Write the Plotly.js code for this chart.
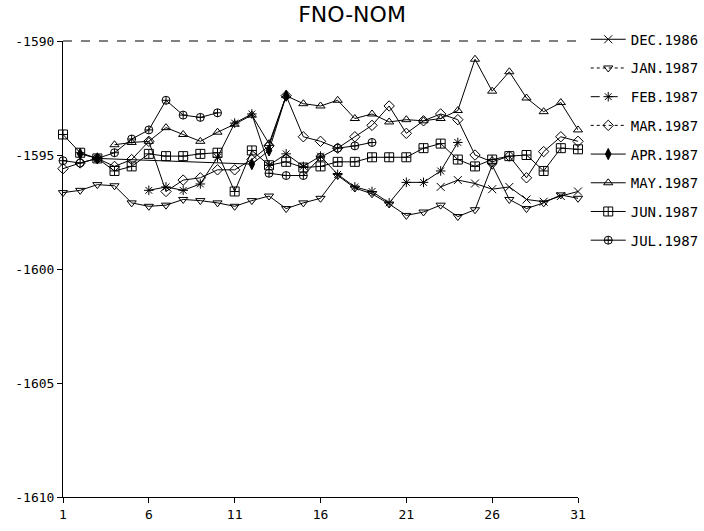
<!DOCTYPE html>
<html>
<head>
<meta charset="utf-8">
<script src="https://cdn.plot.ly/plotly-3.0.1.min.js"></script>
<style>html,body{margin:0;padding:0;background:#fff;}#chart{width:704px;height:531px;}</style>
</head>
<body>
<div id="chart"></div>
<script>
const days = [1,2,3,4,5,6,7,8,9,10,11,12,13,14,15,16,17,18,19,20,21,22,23,24,25,26,27,28,29,30,31];
const N = null;
const dec1986 = [N,N,N,N,N,N,N,N,N,N,N,N,N,N,N,N,N,N,N,N,N,N,-1596.4,-1596.1,-1596.25,-1596.5,-1596.4,-1596.95,-1597.05,-1596.8,-1596.6];
const jan1987 = [-1596.65,-1596.55,-1596.3,-1596.35,-1597.1,-1597.25,-1597.2,-1596.95,-1597.0,-1597.1,-1597.25,-1597.0,-1596.8,-1597.35,-1597.1,-1596.9,-1595.9,-1596.45,-1596.7,-1597.15,-1597.65,-1597.5,-1597.2,-1597.7,-1597.4,-1595.45,-1596.95,-1597.35,-1597.1,-1596.75,-1596.9];
const feb1987 = [N,N,N,N,N,-1596.55,-1596.4,-1596.55,-1596.27,-1595.1,-1593.6,-1593.2,-1595.45,-1594.95,-1595.5,-1595.05,-1595.85,-1596.4,-1596.6,-1597.1,-1596.2,-1596.2,-1595.7,-1594.45,N,N,N,N,N,N,N];
const mar1987 = [-1595.6,-1595.35,-1595.15,-1595.5,-1595.2,-1594.4,-1596.6,-1596.1,-1596.0,-1595.65,-1595.65,-1595.2,-1594.6,-1592.4,-1594.2,-1594.4,-1594.7,-1594.2,-1593.7,-1592.85,-1594.05,-1593.5,-1593.2,-1593.45,-1595.0,-1595.3,-1595.05,-1596.0,-1594.85,-1594.2,-1594.4];
const apr1987 = [N,-1594.95,-1595.15,N,N,N,N,N,N,N,N,-1595.4,-1594.8,-1592.4,N,N,N,N,N,N,N,N,N,N,N,N,N,N,N,N,N];
const may1987 = [N,N,N,-1594.55,-1594.45,-1594.4,-1593.8,-1594.1,-1594.4,-1594.0,-1593.65,-1593.25,-1594.5,-1592.4,-1592.75,-1592.85,-1592.6,-1593.4,-1593.2,-1593.55,-1593.45,-1593.5,-1593.4,-1593.05,-1590.8,-1592.2,-1591.35,-1592.5,-1593.1,-1592.7,-1593.9];
const jun1987 = [-1594.1,-1594.9,-1595.15,-1595.7,-1595.5,-1594.95,-1595.05,-1595.05,-1594.95,-1594.9,-1596.6,-1594.8,-1595.45,-1595.3,-1595.55,-1595.5,-1595.3,-1595.3,-1595.1,-1595.1,-1595.1,-1594.7,-1594.5,-1595.2,-1595.5,-1595.2,-1595.05,-1595.0,-1595.7,-1594.7,-1594.75];
const jul1987 = [-1595.25,-1595.35,-1595.15,-1594.9,-1594.3,-1593.9,-1592.6,-1593.25,-1593.35,-1593.15,N,N,-1595.8,-1595.9,-1595.9,-1595.1,-1594.7,-1594.6,-1594.45,N,N,N,N,N,N,N,N,N,N,N,N];
const seriesNames = ['DEC.1986','JAN.1987','FEB.1987','MAR.1987','APR.1987','MAY.1987','JUN.1987','JUL.1987'];
const seriesValues = [dec1986,jan1987,feb1987,mar1987,apr1987,may1987,jun1987,jul1987];
const xTicks = [1,6,11,16,21,26,31];
const yTicks = [-1610,-1605,-1600,-1595,-1590];

const symbols = ['x-thin-open','triangle-down-open','asterisk-open','diamond-open','diamond-tall','triangle-up-open','square-cross-open','circle-cross-open'];
const sizes = [8,8,8,8,8,8,9,8];
const legendDash = ['solid','dot','dash','dot','solid','solid','solid','solid'];
const connect = [false,false,false,false,true,false,false,false];

const traces = [];
seriesValues.forEach((vals,i)=>{
  traces.push({
    x: days, y: vals, type:'scatter', mode:'lines+markers', showlegend:false,
    connectgaps: connect[i],
    line:{color:'#000',width:1},
    marker:{symbol:symbols[i],size:sizes[i],color:'#000',line:{color:'#000',width:1}},
    cliponaxis:false
  });
});
seriesNames.forEach((nm,i)=>{
  traces.push({
    x:[null], y:[null], type:'scatter', mode:'lines+markers', name:nm,
    legendgroup:'g'+i, showlegend:true,
    line:{color:'#000',width:1,dash:legendDash[i]},
    marker:{symbol:symbols[i],size:sizes[i],color:'#000',line:{color:'#000',width:1}}
  });
});

const mono = 'DejaVu Sans Mono, monospace';
const layout = {
  width:704, height:531,
  margin:{l:63,r:126,t:41,b:34,autoexpand:false},
  paper_bgcolor:'#fff', plot_bgcolor:'#fff',
  title:{text:'FNO-NOM', x:0.5, xref:'container', y:0.974, yref:'container', yanchor:'middle',
         font:{family:'DejaVu Sans, sans-serif', size:22, color:'#000'}},
  xaxis:{range:[1,31], tickvals:xTicks, ticktext:xTicks.map(String), showline:true, linecolor:'#000', linewidth:1,
         ticks:'outside', ticklen:5, tickcolor:'#000', showgrid:false, zeroline:false, automargin:false,
         tickfont:{family:mono,size:13,color:'#000'}},
  yaxis:{range:[-1610,-1590], tickvals:yTicks, ticktext:yTicks.map(String), showline:true, linecolor:'#000', linewidth:1,
         ticks:'outside', ticklen:5, tickcolor:'#000', showgrid:false, zeroline:false, automargin:false,
         tickfont:{family:mono,size:13,color:'#000'}},
  shapes:[{type:'line', xref:'paper', yref:'paper', x0:0, x1:1, y0:1, y1:1, line:{color:'#000',width:1,dash:'dash'}}],
  showlegend:true,
  legend:{x:1.015, xanchor:'left', y:1.038, yanchor:'top', traceorder:'grouped', tracegroupgap:7.5, itemwidth:35,
          font:{family:mono,size:14,color:'#000'}, bgcolor:'rgba(0,0,0,0)'}
};
Plotly.newPlot('chart', traces, layout, {displayModeBar:false, staticPlot:true});
</script>
</body>
</html>
